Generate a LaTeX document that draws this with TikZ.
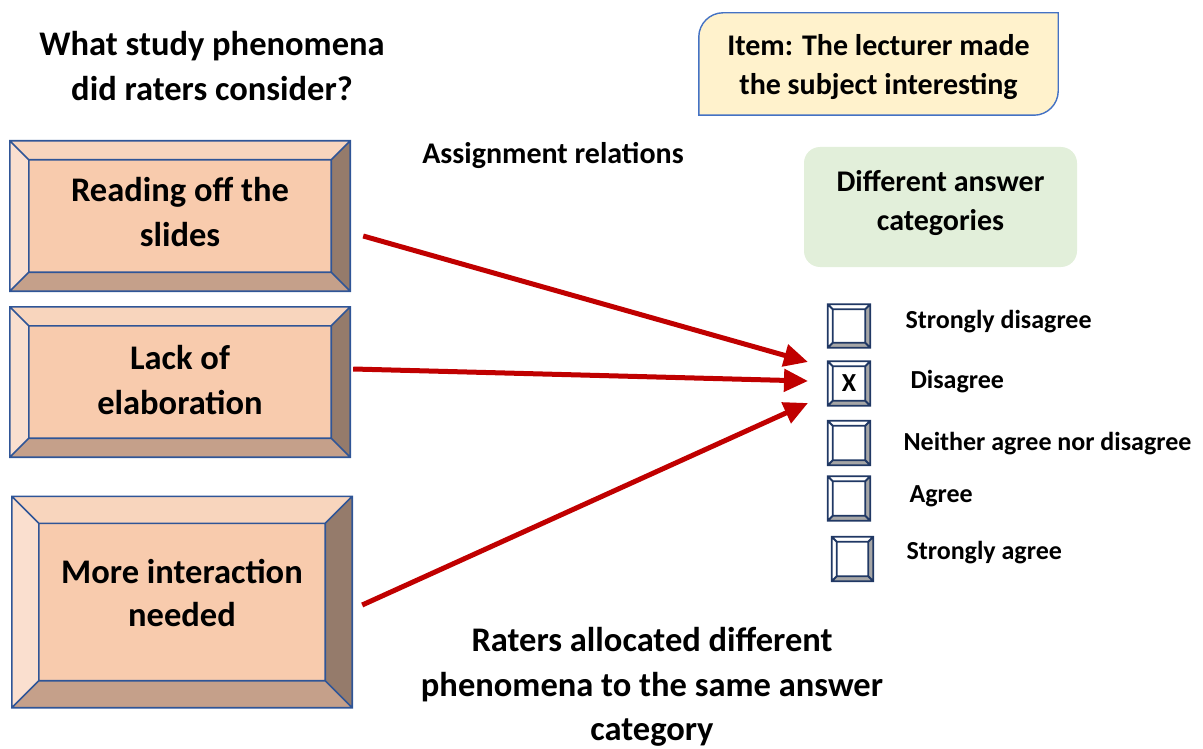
\documentclass[tikz,border=0pt]{standalone}
\usepackage{fontspec}
\setmainfont{Carlito}
\usetikzlibrary{calc,backgrounds,arrows.meta}
\definecolor{bvtop}{HTML}{F8D5BD}
\definecolor{bvleft}{HTML}{FADFCF}
\definecolor{bvface}{HTML}{F8CBAD}
\definecolor{bvbottom}{HTML}{C5A08A}
\definecolor{bvright}{HTML}{957B6B}
\definecolor{bvline}{HTML}{2F5597}
\definecolor{cbline}{HTML}{203864}
\definecolor{cbshade}{HTML}{A6A6A6}
\definecolor{itemfill}{HTML}{FFF2CC}
\definecolor{itemline}{HTML}{4472C4}
\definecolor{catfill}{HTML}{E2EFDA}
\definecolor{arrowred}{HTML}{C00000}
\tikzset{
  big/.style={font=\bfseries\fontsize{34.5}{45}\selectfont, align=center},
  mid/.style={font=\bfseries\fontsize{30}{39}\selectfont, align=center},
  small/.style={font=\bfseries\fontsize{26}{30}\selectfont, anchor=west},
  phen/.style={big, inner sep=0pt},
  cbox/.style={inner sep=0pt, font=\bfseries\fontsize{26}{28}\selectfont},
  link/.style={draw=arrowred, line width=5pt, -{Triangle[length=24pt,width=22pt]}},
}
% bevelled frame behind a node: #1 node, #2 bevel depth, #3-#7 colours, #8 line style
\newcommand\bevelframe[8]{%
  \begin{pgfonlayer}{background}
  \coordinate (#1-a) at ($(#1.north west)+(#2,#2)$);
  \coordinate (#1-b) at ($(#1.north east)+(-#2,#2)$);
  \coordinate (#1-c) at ($(#1.south east)+(-#2,-#2)$);
  \coordinate (#1-d) at ($(#1.south west)+(#2,-#2)$);
  \fill[#3] (#1.north west) -- (#1.north east) -- (#1-b) -- (#1-a) -- cycle;
  \fill[#4] (#1.north west) -- (#1-a) -- (#1-d) -- (#1.south west) -- cycle;
  \fill[#5] (#1.south west) -- (#1-d) -- (#1-c) -- (#1.south east) -- cycle;
  \fill[#6] (#1.north east) -- (#1.south east) -- (#1-c) -- (#1-b) -- cycle;
  \fill[#7] (#1-a) rectangle (#1-c);
  \draw[#8] (#1.north west) rectangle (#1.south east) (#1-a) rectangle (#1-c)
    (#1.north west) -- (#1-a) (#1.north east) -- (#1-b)
    (#1.south east) -- (#1-c) (#1.south west) -- (#1-d);
  \end{pgfonlayer}}
\newcommand\phenframe[2]{\bevelframe{#1}{#2}{bvtop}{bvleft}{bvbottom}{bvright}{bvface}{draw=bvline,line width=1.6pt}}
\newcommand\checkframe[1]{\bevelframe{#1}{5}{white}{white}{cbshade}{cbshade}{white}{draw=cbline,line width=1.8pt}}
\begin{document}
\begin{tikzpicture}[x=1pt,y=-1pt]
\useasboundingbox (0,0) rectangle (1203,749);

% question heading
\node[big] (question) at (212,66) {What study phenomena\\did raters consider?};

% phenomena boxes
\node[phen, minimum width=340pt, minimum height=150pt] (p1) at (180,216) {};
\node[big] (p1t) at (180,212) {Reading off the\\slides};
\phenframe{p1}{19}
\node[phen, minimum width=340pt, minimum height=150pt] (p2) at (180,382) {};
\node[big] (p2t) at (180,380) {Lack of\\elaboration};
\phenframe{p2}{19}
\node[phen, minimum width=340pt, minimum height=211pt] (p3) at (182,602) {};
\node[big, font=\bfseries\fontsize{34.5}{43}\selectfont] (p3t) at (182,593) {More interaction\\needed};
\phenframe{p3}{27}

% item box with two rounded corners
\node[minimum width=359pt, minimum height=102pt, inner sep=0pt] (item) at (878.5,64) {};
\node[mid] (itemt) at (878.5,67) {Item: The lecturer made\\the subject interesting};
\begin{pgfonlayer}{background}
\draw[fill=itemfill, draw=itemline, line width=1.4pt]
  (item.south west) -- ($(item.north west)+(0,24)$)
  .. controls ($(item.north west)+(0,11)$) and ($(item.north west)+(11,0)$) .. ($(item.north west)+(24,0)$)
  -- (item.north east) -- ($(item.south east)+(0,-24)$)
  .. controls ($(item.south east)+(0,-11)$) and ($(item.south east)+(-11,0)$) .. ($(item.south east)+(-24,0)$) -- cycle;
\end{pgfonlayer}

% answer categories heading
\node[fill=catfill, rounded corners=16pt, minimum width=273pt, minimum height=120pt] (cats) at (940.5,207) {};
\node[mid] (catst) at (940.5,203) {Different answer\\categories};

\node[mid] (assign) at (553,155) {Assignment relations};

% answer checkboxes
\node[cbox, minimum width=42pt, minimum height=43pt] (c1) at (849,326) {};
\checkframe{c1}
\node[cbox, minimum width=42pt, minimum height=44pt] (c2) at (849,383.5) {X};
\checkframe{c2}
\node[cbox, minimum width=42pt, minimum height=44pt] (c3) at (849,443) {};
\checkframe{c3}
\node[cbox, minimum width=42pt, minimum height=44pt] (c4) at (849,498.5) {};
\checkframe{c4}
\node[cbox, minimum width=41pt, minimum height=44pt] (c5) at (852.5,559) {};
\checkframe{c5}

\node[small] (l1) at (902,322) {Strongly disagree};
\node[small] (l2) at (907,382) {Disagree};
\node[small] (l3) at (900,444) {Neither agree nor disagree};
\node[small] (l4) at (906,496) {Agree};
\node[small] (l5) at (903,553) {Strongly agree};

% assignment arrows
\coordinate (t1) at (808,362);
\coordinate (t2) at (808,381);
\coordinate (t3) at (808,403);
\draw[link] ([shift={(13,20)}]p1.east) -- (t1);
\draw[link] ([shift={(3,-13)}]p2.east) -- (t2);
\draw[link] ([shift={(10,3)}]p3.east) -- (t3);

% conclusion
\node[big, font=\bfseries\fontsize{34.5}{44.5}\selectfont] (concl) at (652,687) {Raters allocated different\\phenomena to the same answer\\category};
\end{tikzpicture}
\end{document}
